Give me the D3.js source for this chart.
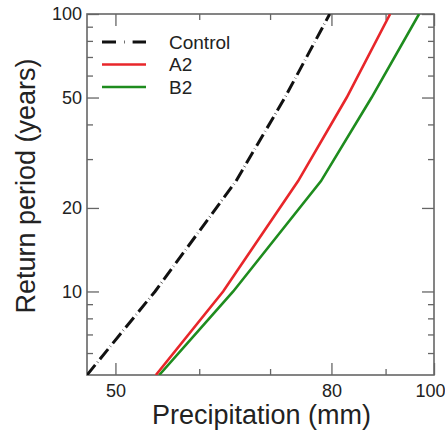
<!DOCTYPE html>
<html lang="en">
<head>
  <meta charset="UTF-8">
  <script src="https://d3js.org/d3.v7.min.js"></script>
  <style>
    body { margin: 0; background: #fff; }
    svg { display: block; font-family: "Liberation Sans", Arial, sans-serif; }
  </style>
</head>
<body>
  <script>
    const width = 445;
    const height = 441;

    // return periods (years) and precipitation (mm) for each run
    const returnPeriods = [5, 10, 25, 50, 100];
    const control = [47, 54.5, 65, 72.3, 79.7];
    const a2 = [54.6, 63.2, 74.4, 82.7, 90.9];
    const b2 = [55.0, 64.6, 78.2, 87.3, 96.8];

    const xMajor = [50, 80, 100];
    const xMinor = [60, 70, 90];
    const yMajor = [10, 20, 50, 100];
    const yMinor = [6, 7, 8, 9, 30, 40, 60, 70, 80, 90];

    const seriesNames = ["Control", "A2", "B2"];
    const seriesColors = ["#111", "#e8262a", "#1e8c1e"];

    const margin = { top: 14, right: 11, bottom: 66, left: 87 };
    const plotW = width - margin.left - margin.right;
    const plotH = height - margin.top - margin.bottom;

    const svg = d3.select("body")
      .append("svg")
      .attr("width", width)
      .attr("height", height);

    const g = svg.append("g")
      .attr("transform", `translate(${margin.left},${margin.top})`);

    const x = d3.scaleLog().domain([47, 100]).range([0, plotW]);
    const y = d3.scaleLog().domain([5, 100]).range([plotH, 0]);

    const axisColor = "#666";

    // minor ticks first, then major ones with labels
    function drawAxis(axis, transform, labels) {
      const a = g.append("g").attr("transform", transform).call(axis);
      a.select(".domain").remove();
      a.selectAll(".tick line").attr("stroke", axisColor).attr("stroke-width", 1.3);
      a.selectAll("text")
        .attr("fill", "#222")
        .style("font-size", "18px");
      if (!labels) a.selectAll("text").remove();
      return a;
    }

    const fmt = d => d;
    drawAxis(d3.axisBottom(x).tickValues(xMinor).tickSize(-6), `translate(0,${plotH})`, false);
    const xa = drawAxis(d3.axisBottom(x).tickValues(xMajor).tickSize(-12).tickPadding(9).tickFormat(fmt), `translate(0,${plotH})`, true);
    xa.selectAll("text").filter(d => d === 100).attr("dx", -4);
    drawAxis(d3.axisTop(x).tickValues(xMinor).tickSize(-6), "translate(0,0)", false);
    drawAxis(d3.axisTop(x).tickValues(xMajor).tickSize(-12), "translate(0,0)", false);

    drawAxis(d3.axisLeft(y).tickValues(yMinor).tickSize(-6), "translate(0,0)", false);
    drawAxis(d3.axisLeft(y).tickValues(yMajor).tickSize(-12).tickPadding(5).tickFormat(fmt), "translate(0,0)", true);
    drawAxis(d3.axisRight(y).tickValues(yMinor).tickSize(-6), `translate(${plotW},0)`, false);
    drawAxis(d3.axisRight(y).tickValues(yMajor).tickSize(-12), `translate(${plotW},0)`, false);

    g.append("rect")
      .attr("width", plotW)
      .attr("height", plotH)
      .attr("fill", "none")
      .attr("stroke", axisColor)
      .attr("stroke-width", 1.6);

    // curves
    g.append("clipPath").attr("id", "clip")
      .append("rect").attr("width", plotW).attr("height", plotH);

    const line = d3.line()
      .x(d => x(d[0]))
      .y(d => y(d[1]));

    const series = [control, a2, b2];
    series.forEach((vals, i) => {
      const pts = vals.map((v, j) => [v, returnPeriods[j]]);
      g.append("path")
        .datum(pts)
        .attr("clip-path", "url(#clip)")
        .attr("fill", "none")
        .attr("stroke", seriesColors[i])
        .attr("stroke-width", i === 0 ? 3 : 2.6)
        .attr("stroke-dasharray", i === 0 ? "13,3.5,0.4,3.5" : null)
        .attr("d", line);
    });

    // legend
    const legend = svg.append("g").attr("transform", "translate(102,42)");
    seriesNames.forEach((name, i) => {
      const row = legend.append("g").attr("transform", `translate(0,${i * 22.5})`);
      row.append("line")
        .attr("x1", 0).attr("x2", 44)
        .attr("stroke", seriesColors[i])
        .attr("stroke-width", i === 0 ? 3 : 2.6)
        .attr("stroke-dasharray", i === 0 ? "14,8,0.6,8" : null);
      row.append("text")
        .attr("x", 67)
        .attr("dy", "0.36em")
        .attr("fill", "#222")
        .style("font-size", "19px")
        .text(name);
    });

    // axis titles
    svg.append("text")
      .attr("x", margin.left + plotW / 2 + 1)
      .attr("y", 424)
      .attr("text-anchor", "middle")
      .attr("fill", "#222")
      .style("font-size", "27px")
      .text("Precipitation (mm)");

    svg.append("text")
      .attr("transform", "translate(35,186) rotate(-90)")
      .attr("text-anchor", "middle")
      .attr("fill", "#222")
      .style("font-size", "27px")
      .text("Return period (years)");
  </script>
</body>
</html>
